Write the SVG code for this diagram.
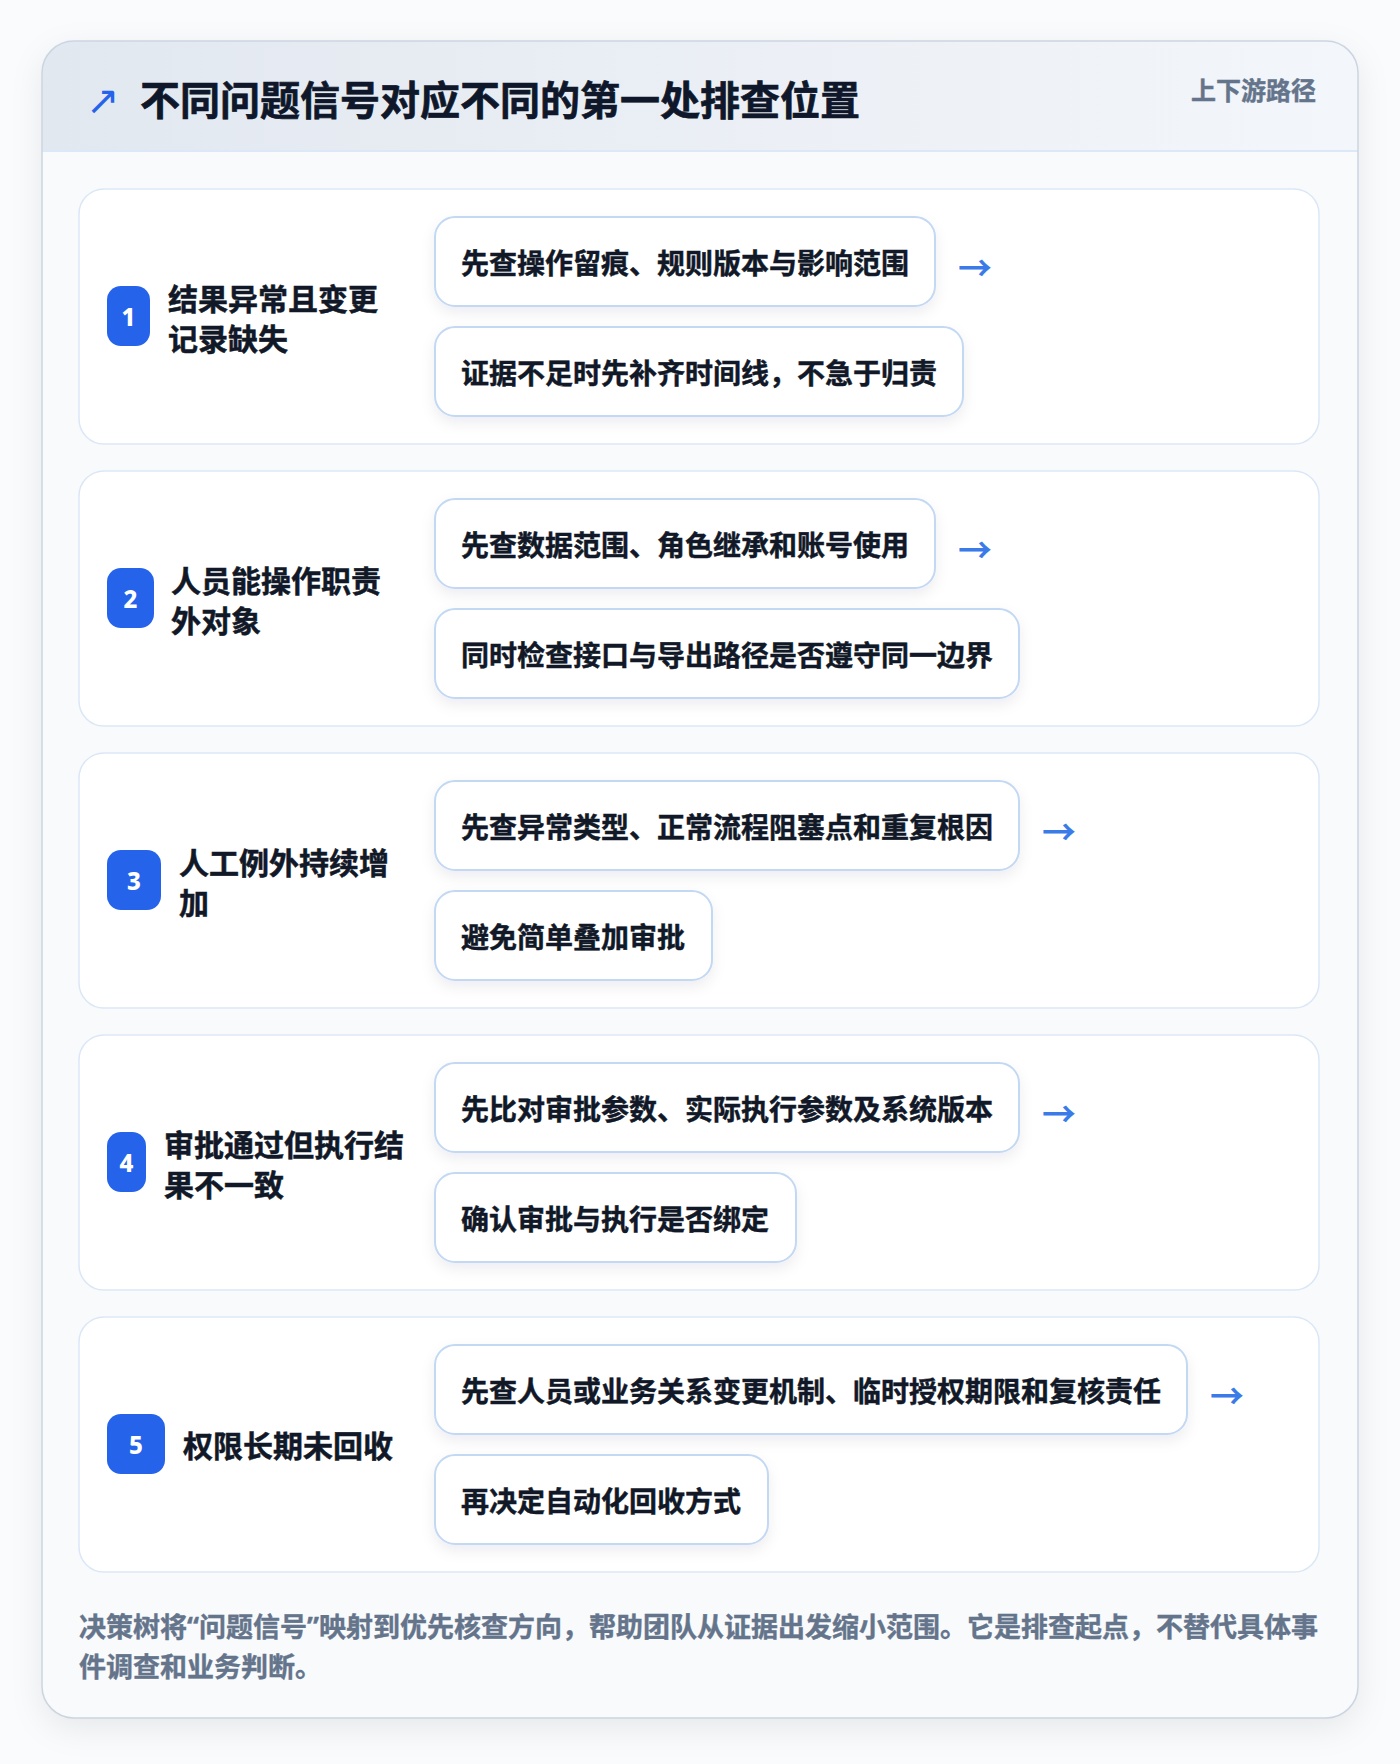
<svg xmlns="http://www.w3.org/2000/svg" width="1400" height="1764" viewBox="0 0 1400 1764">
  <defs>
    <linearGradient id="hdr" x1="0" y1="0" x2="1" y2="0">
      <stop offset="0" stop-color="#e2e8f0"/>
      <stop offset="1" stop-color="#f3f6fa"/>
    </linearGradient>
    <filter id="cardShadow" x="-10%" y="-10%" width="120%" height="120%">
      <feDropShadow dx="0" dy="10" stdDeviation="16" flood-color="#0f172a" flood-opacity="0.08"/>
    </filter>
    <filter id="boxShadow" x="-10%" y="-20%" width="120%" height="150%">
      <feDropShadow dx="0" dy="6" stdDeviation="7" flood-color="#1e293b" flood-opacity="0.07"/>
    </filter>
    <clipPath id="cardClip">
      <rect x="42" y="41" width="1316" height="1677" rx="32"/>
    </clipPath>
    <style>
      .t { font-family: "Noto Sans CJK SC", "Noto Sans", sans-serif; font-weight: 700; dominant-baseline: central; }
      .title { font-size: 40px; fill: #0f172a; stroke: #0f172a; stroke-width: 0.7px; }
      .tag { font-size: 25px; fill: #64748b; stroke: #64748b; stroke-width: 0.4px; }
      .row { fill: #ffffff; stroke: #dbe7f6; stroke-width: 1.5; }
      .badge { fill: #2563eb; }
      .num { font-family: "Noto Sans", "DejaVu Sans", sans-serif; font-weight: 800; font-size: 24px; fill: #ffffff; text-anchor: middle; dominant-baseline: central; }
      .label { font-size: 30px; fill: #111827; stroke: #111827; stroke-width: 0.5px; }
      .box { fill: #ffffff; stroke: #c3d8f3; stroke-width: 2; }
      .btxt { font-size: 28px; fill: #111827; stroke: #111827; stroke-width: 0.45px; }
      .arr { font-family: "Noto Sans CJK SC", "DejaVu Sans", sans-serif; font-weight: 700; font-size: 34px; fill: #3b7be8; dominant-baseline: central; }
      .foot { font-size: 27px; fill: #64748b; stroke: #64748b; stroke-width: 0.4px; }
      .q { font-family: "Noto Sans", "Liberation Sans", sans-serif; }
    </style>
  </defs>

  <rect x="0" y="0" width="1400" height="1764" fill="#fafbfc"/>

  <g id="card">
    <rect x="42" y="41" width="1316" height="1677" rx="32" fill="#f8fafc" filter="url(#cardShadow)"/>
    <g clip-path="url(#cardClip)">
      <rect x="42" y="41" width="1316" height="110" fill="url(#hdr)"/>
      <line x1="42" y1="151" x2="1358" y2="151" stroke="#dce8f7" stroke-width="2"/>
    </g>
    <rect x="42" y="41" width="1316" height="1677" rx="32" fill="none" stroke="#cbd5e1" stroke-width="1.5"/>
  </g>

  <g id="header">
    <text x="86" y="100" font-size="40" fill="#2563eb" dominant-baseline="central" style="font-family:'DejaVu Sans',sans-serif;font-weight:400">↗</text>
    <text class="t title" x="140" y="98">不同问题信号对应不同的第一处排查位置</text>
    <text class="t tag" x="1316" y="89" text-anchor="end">上下游路径</text>
  </g>

  <g id="row1">
    <rect class="row" x="79" y="189" width="1240" height="255" rx="25"/>
    <rect class="badge" x="107" y="286" width="43" height="60" rx="14"/>
    <text class="num" x="128.5" y="316">1</text>
    <text class="t label" x="168" y="297">结果异常且变更</text>
    <text class="t label" x="168" y="337">记录缺失</text>
    <rect class="box" x="435" y="217" width="500" height="89" rx="20" filter="url(#boxShadow)"/>
    <text class="t btxt" x="461" y="261.5">先查操作留痕、规则版本与影响范围</text>
    <rect class="box" x="435" y="327" width="528" height="89" rx="20" filter="url(#boxShadow)"/>
    <text class="t btxt" x="461" y="371.5">证据不足时先补齐时间线，不急于归责</text>
  </g>

  <g id="row2">
    <rect class="row" x="79" y="471" width="1240" height="255" rx="25"/>
    <rect class="badge" x="107" y="568" width="47" height="60" rx="14"/>
    <text class="num" x="130.5" y="598">2</text>
    <text class="t label" x="171" y="579">人员能操作职责</text>
    <text class="t label" x="171" y="619">外对象</text>
    <rect class="box" x="435" y="499" width="500" height="89" rx="20" filter="url(#boxShadow)"/>
    <text class="t btxt" x="461" y="543.5">先查数据范围、角色继承和账号使用</text>
    <rect class="box" x="435" y="609" width="584" height="89" rx="20" filter="url(#boxShadow)"/>
    <text class="t btxt" x="461" y="653.5">同时检查接口与导出路径是否遵守同一边界</text>
  </g>

  <g id="row3">
    <rect class="row" x="79" y="753" width="1240" height="255" rx="25"/>
    <rect class="badge" x="107" y="850" width="54" height="60" rx="14"/>
    <text class="num" x="134" y="880">3</text>
    <text class="t label" x="179" y="861">人工例外持续增</text>
    <text class="t label" x="179" y="901">加</text>
    <rect class="box" x="435" y="781" width="584" height="89" rx="20" filter="url(#boxShadow)"/>
    <text class="t btxt" x="461" y="825.5">先查异常类型、正常流程阻塞点和重复根因</text>
    <rect class="box" x="435" y="891" width="277" height="89" rx="20" filter="url(#boxShadow)"/>
    <text class="t btxt" x="461" y="935.5">避免简单叠加审批</text>
  </g>

  <g id="row4">
    <rect class="row" x="79" y="1035" width="1240" height="255" rx="25"/>
    <rect class="badge" x="107" y="1132" width="39" height="60" rx="14"/>
    <text class="num" x="126.5" y="1162">4</text>
    <text class="t label" x="164" y="1143">审批通过但执行结</text>
    <text class="t label" x="164" y="1183">果不一致</text>
    <rect class="box" x="435" y="1063" width="584" height="89" rx="20" filter="url(#boxShadow)"/>
    <text class="t btxt" x="461" y="1107.5">先比对审批参数、实际执行参数及系统版本</text>
    <rect class="box" x="435" y="1173" width="361" height="89" rx="20" filter="url(#boxShadow)"/>
    <text class="t btxt" x="461" y="1217.5">确认审批与执行是否绑定</text>
  </g>

  <g id="row5">
    <rect class="row" x="79" y="1317" width="1240" height="255" rx="25"/>
    <rect class="badge" x="107" y="1414" width="58" height="60" rx="14"/>
    <text class="num" x="136" y="1444">5</text>
    <text class="t label" x="183" y="1444">权限长期未回收</text>
    <rect class="box" x="435" y="1345" width="752" height="89" rx="20" filter="url(#boxShadow)"/>
    <text class="t btxt" x="461" y="1389.5">先查人员或业务关系变更机制、临时授权期限和复核责任</text>
    <rect class="box" x="435" y="1455" width="333" height="89" rx="20" filter="url(#boxShadow)"/>
    <text class="t btxt" x="461" y="1499.5">再决定自动化回收方式</text>
  </g>

  <g id="connectors">
    <text class="arr" x="958" y="266">→</text>
    <text class="arr" x="958" y="548">→</text>
    <text class="arr" x="1042" y="830">→</text>
    <text class="arr" x="1042" y="1112">→</text>
    <text class="arr" x="1210" y="1394">→</text>
  </g>

  <g id="footer">
    <text class="t foot" x="79" y="1625">决策树将<tspan class="q">“</tspan>问题信号<tspan class="q">”</tspan>映射到优先核查方向，帮助团队从证据出发缩小范围。它是排查起点，不替代具体事</text>
    <text class="t foot" x="79" y="1665">件调查和业务判断。</text>
  </g>
</svg>
